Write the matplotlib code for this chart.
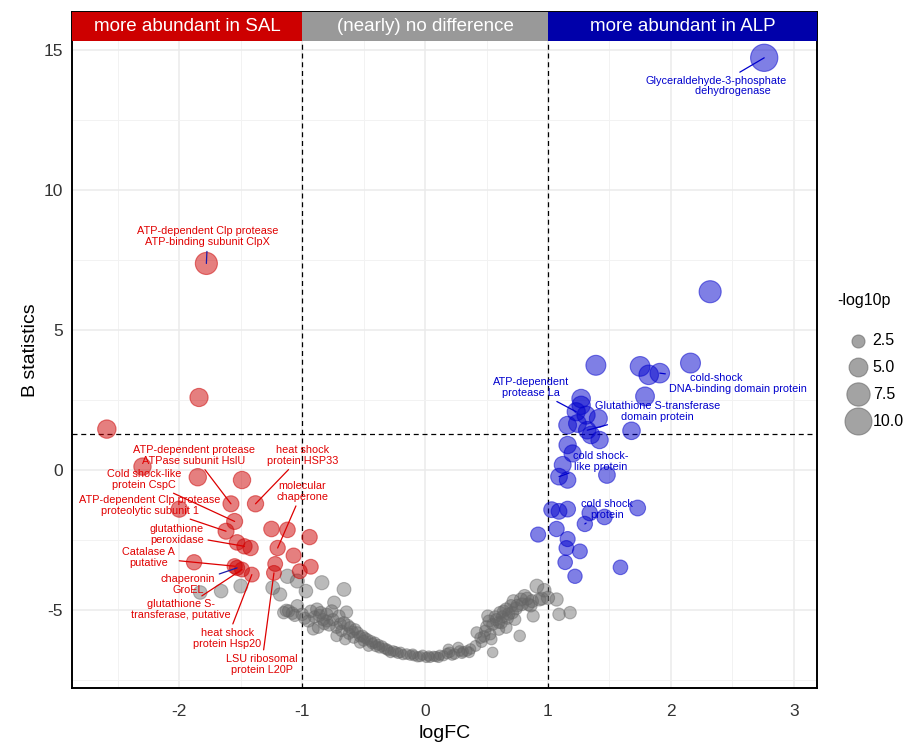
import numpy as np
import matplotlib.pyplot as plt
from matplotlib.patches import Rectangle

plt.rcParams['font.family'] = ['Liberation Sans', 'DejaVu Sans']
plt.rcParams['axes.unicode_minus'] = False

# --- data: logFC, B statistics, -log10p ---
grey_fc = [-1.83, -1.66, -1.50, -1.24, -1.18, -1.12, -1.04, -0.97, -0.84, -0.66,
           -0.74, -1.04, -1.11, -1.15, -1.00, -0.95, -0.88, -0.85, -0.80, -0.76,
           -0.70, -0.64, -0.91, -0.87, -0.80, -0.72, -0.66, -0.61, -0.55, -0.72,
           -0.65, -0.58, -0.51, -0.47, -0.53, -0.46, -0.41, -0.37, -0.31, -0.26,
           -0.28, -0.20, -0.15, -0.09, -0.04, 0.01, 0.04, 0.09, 0.15, 0.20,
           0.24, 0.28, 0.34, 0.19, 0.27, 0.41, 0.42, 0.53, 0.55, 0.54,
           0.51, 0.55, 0.61, 0.62, 0.66, 0.66, 0.70, 0.73, 0.77, 0.72,
           0.78, 0.81, 0.87, 0.88, 0.91, 0.93, 1.00, 1.07, 1.09, 1.18,
           -1.08, -0.98, -0.90, -0.83, -0.78, -0.68, -0.62, -0.57, -0.50, -0.43,
           -0.38, -0.33, -0.22, -0.12, -0.06, 0.07, 0.12, 0.18, 0.31, 0.37,
           0.46, 0.50, 0.58, 0.63, 0.68, 0.75, 0.84, 0.60, 0.48,
           -1.13, -1.06, -0.93, -0.86, -0.82, -0.75, -0.69, -0.63, -0.59, -0.53,
           -0.49, -0.44, -0.40, -0.35, -0.30, -0.24, -0.18, -0.10, -0.02, 0.03,
           0.11, 0.22, 0.30, 0.36, 0.45, 0.49, 0.52, 0.57, 0.60, 0.64,
           0.67, 0.71, 0.74, 0.79, 0.83, 0.86, 0.95, 0.97]
grey_b = [-4.38, -4.33, -4.15, -4.21, -4.45, -3.80, -3.97, -4.33, -4.03, -4.27,
          -4.74, -4.86, -5.04, -5.10, -5.16, -5.40, -4.98, -5.10, -5.16, -5.04,
          -5.22, -5.08, -5.69, -5.63, -5.40, -5.63, -5.46, -5.63, -5.81, -5.93,
          -6.05, -5.99, -5.93, -6.05, -6.17, -6.29, -6.17, -6.35, -6.41, -6.47,
          -6.52, -6.52, -6.58, -6.64, -6.67, -6.70, -6.70, -6.67, -6.64, -6.52,
          -6.58, -6.47, -6.47, -6.41, -6.35, -6.29, -5.81, -5.87, -6.52, -6.05,
          -5.22, -5.52, -5.10, -5.46, -4.98, -5.63, -4.86, -5.34, -5.93, -4.69,
          -4.63, -4.51, -4.69, -5.22, -4.15, -4.63, -4.57, -4.63, -5.16, -5.10,
          -5.12, -5.30, -5.25, -5.35, -5.55, -5.75, -5.85, -5.70, -6.10, -6.20,
          -6.25, -6.38, -6.55, -6.62, -6.68, -6.66, -6.62, -6.56, -6.50, -6.40,
          -6.15, -5.60, -5.35, -5.25, -5.15, -4.85, -4.80, -5.70, -5.95,
          -5.02, -5.20, -5.05, -5.20, -5.50, -5.35, -5.50, -5.55, -5.78, -5.95,
          -6.00, -6.12, -6.30, -6.30, -6.45, -6.50, -6.60, -6.58, -6.62, -6.65,
          -6.70, -6.62, -6.55, -6.52, -6.00, -5.75, -5.40, -5.25, -5.45, -5.05,
          -5.30, -5.10, -4.95, -4.80, -4.60, -4.85, -4.60, -4.30]
grey_p = [2.7, 2.7, 2.8, 2.8, 2.6, 3.0, 2.9, 2.7, 2.9, 2.8,
          2.5, 2.4, 2.3, 2.3, 2.3, 2.2, 2.4, 2.3, 2.3, 2.3,
          2.2, 2.3, 2.1, 2.1, 2.2, 2.1, 2.2, 2.1, 2.0, 2.0,
          1.9, 2.0, 2.0, 1.9, 1.9, 1.8, 1.9, 1.8, 1.8, 1.7,
          1.7, 1.7, 1.7, 1.6, 1.6, 1.6, 1.6, 1.6, 1.6, 1.7,
          1.7, 1.7, 1.7, 1.7, 1.8, 1.8, 2.0, 2.0, 1.7, 1.9,
          2.2, 2.1, 2.3, 2.2, 2.4, 2.1, 2.4, 2.2, 2.0, 2.5,
          2.5, 2.6, 2.5, 2.2, 2.8, 2.5, 2.6, 2.6, 2.3, 2.3,
          2.3, 2.2, 2.2, 2.2, 2.1, 2.0, 2.0, 2.0, 1.9, 1.8,
          1.8, 1.8, 1.7, 1.6, 1.6, 1.6, 1.6, 1.7, 1.7, 1.7,
          1.8, 2.1, 2.2, 2.2, 2.3, 2.4, 2.4, 2.1, 2.0,
          2.3, 2.2, 2.3, 2.2, 2.1, 2.2, 2.1, 2.1, 2.0, 1.9,
          1.9, 1.9, 1.8, 1.8, 1.7, 1.7, 1.6, 1.6, 1.6, 1.6,
          1.6, 1.6, 1.7, 1.7, 1.9, 2.0, 2.2, 2.2, 2.1, 2.3,
          2.2, 2.3, 2.4, 2.4, 2.5, 2.4, 2.5, 2.7]

red_fc = [-2.59, -1.84, -1.78, -2.30, -1.85, -1.49, -1.58, -1.38, -2.00, -1.55,
          -1.62, -1.25, -1.12, -0.94, -1.53, -1.47, -1.42, -1.20, -1.88, -1.07,
          -1.55, -1.53, -1.49, -1.41, -1.22, -1.23, -1.02, -0.93]
red_b = [1.46, 2.59, 7.38, 0.12, -0.26, -0.36, -1.21, -1.21, -1.40, -1.84,
         -2.19, -2.11, -2.14, -2.40, -2.59, -2.73, -2.79, -2.79, -3.30, -3.06,
         -3.44, -3.50, -3.56, -3.74, -3.36, -3.68, -3.62, -3.46]
red_p = [4.8, 4.7, 6.8, 4.3, 4.3, 4.3, 3.7, 3.8, 3.8, 3.7,
         3.7, 3.5, 3.5, 3.4, 3.5, 3.4, 3.4, 3.4, 3.4, 3.3,
         3.3, 3.3, 3.2, 3.2, 3.2, 3.2, 3.2, 3.2]

blue_fc = [2.76, 2.32, 1.39, 1.75, 2.16, 1.82, 1.91, 1.79, 1.27, 1.27,
           1.23, 1.31, 1.41, 1.16, 1.24, 1.32, 1.35, 1.42, 1.68, 1.16,
           1.20, 1.12, 1.09, 1.16, 1.48, 1.03, 1.09, 1.16, 1.34, 1.46,
           1.30, 1.73, 0.92, 1.07, 1.16, 1.15, 1.26, 1.14, 1.22, 1.59]
blue_b = [14.73, 6.37, 3.74, 3.70, 3.82, 3.40, 3.46, 2.63, 2.55, 2.31,
          2.08, 1.96, 1.84, 1.60, 1.66, 1.42, 1.25, 1.07, 1.40, 0.89,
          0.59, 0.18, -0.24, -0.36, -0.18, -1.42, -1.48, -1.40, -1.54, -1.68,
          -1.93, -1.36, -2.31, -2.11, -2.47, -2.79, -2.91, -3.30, -3.80, -3.48]
blue_p = [10.2, 6.8, 5.6, 5.5, 5.6, 5.4, 5.4, 5.0, 4.9, 4.8,
          4.7, 4.7, 4.6, 4.5, 4.5, 4.4, 4.4, 4.3, 4.4, 4.3,
          4.2, 4.1, 4.0, 3.9, 4.0, 3.6, 3.6, 3.6, 3.5, 3.5,
          3.4, 3.6, 3.3, 3.4, 3.3, 3.2, 3.2, 3.1, 3.0, 3.1]

# labelled proteins: index into the red / blue arrays
red_lab_idx = [2, 6, 7, 9, 10, 17, 15, 20, 21, 22, 23, 25]
red_lab_text = ["ATP-dependent Clp protease\nATP-binding subunit ClpX",
                "ATP-dependent protease\nATPase subunit HslU",
                "heat shock\nprotein HSP33",
                "Cold shock-like\nprotein CspC",
                "ATP-dependent Clp protease\nproteolytic subunit 1",
                "molecular\nchaperone",
                "glutathione\nperoxidase",
                "Catalase A\nputative",
                "chaperonin\nGroEL",
                "glutathione S-\ntransferase, putative",
                "heat shock\nprotein Hsp20",
                "LSU ribosomal\nprotein L20P"]
blue_lab_idx = [0, 6, 10, 15, 22, 30]
blue_lab_text = ["Glyceraldehyde-3-phosphate\n           dehydrogenase",
                 "cold-shock               \nDNA-binding domain protein",
                 "ATP-dependent\nprotease La",
                 "Glutathione S-transferase\ndomain protein",
                 "cold shock-\nlike protein",
                 "cold shock\nprotein"]

legend_vals = [2.5, 5.0, 7.5, 10.0]

# label placement (text centre, data units)
red_lab_pos = [(-1.77, 8.33), (-1.88, 0.52), (-1.00, 0.52), (-2.29, -0.34),
               (-2.24, -1.27), (-1.00, -0.77), (-2.02, -2.31), (-2.25, -3.14),
               (-1.93, -4.10), (-1.99, -5.00), (-1.61, -6.02), (-1.33, -6.95)]
red_seg_col = ['#1a1aa8', '#dd0000', '#dd0000', '#dd0000', '#dd0000', '#dd0000',
               '#dd0000', '#dd0000', '#1a1aa8', '#dd0000', '#dd0000', '#dd0000']
blue_lab_pos = [(2.37, 13.72), (2.55, 3.10), (0.86, 2.94), (1.89, 2.10),
                (1.43, 0.30), (1.48, -1.40)]

RED = '#cd0000'
BLUE = '#0000cd'
XLIM = (-2.87, 3.19)
YLIM = (-7.78, 16.37)


def msize(v):
    d = 8.85 * np.sqrt(np.asarray(v)) - 1.0   # diameter in px
    return (d * 0.72) ** 2


fig = plt.figure(figsize=(9.17, 7.45), dpi=100)
ax = fig.add_axes([0.079, 0.077, 0.812, 0.907])
ax.set_xlim(*XLIM)
ax.set_ylim(*YLIM)

ax.set_xticks([-2, -1, 0, 1, 2, 3])
ax.set_yticks([-5, 0, 5, 10, 15])
ax.set_xticks(np.arange(-2.5, 3.0, 1.0), minor=True)
ax.set_yticks([-7.5, -2.5, 2.5, 7.5, 12.5], minor=True)
ax.grid(which='major', color='#ebebeb', lw=1.1, zorder=0)
ax.grid(which='minor', color='#f2f2f2', lw=0.7, zorder=0)
ax.set_axisbelow(True)
ax.tick_params(which='both', length=0, labelsize=12.5, labelcolor='#333333')
ax.tick_params(axis='x', pad=12)
ax.tick_params(axis='y', pad=7)
for s in ax.spines.values():
    s.set_linewidth(1.4)
    s.set_color('black')

# thresholds
for xv in (-1, 1):
    ax.plot([xv, xv], [YLIM[0], 15.33], color='black', lw=0.9, ls=(0, (4, 3)), zorder=1)
ax.axhline(1.3, color='black', lw=0.9, ls=(0, (4, 3)), zorder=1)

# points
ax.scatter(grey_fc, grey_b, s=msize(grey_p), facecolor=(0.4, 0.4, 0.4, 0.45),
           edgecolor=(0.4, 0.4, 0.4, 0.45), lw=0.8, zorder=2)
ax.scatter(red_fc, red_b, s=msize(red_p), facecolor=(0.8, 0.0, 0.0, 0.5),
           edgecolor=(0.8, 0.0, 0.0, 0.5), lw=0.8, zorder=2)
ax.scatter(blue_fc, blue_b, s=msize(blue_p), facecolor=(0.0, 0.0, 0.8, 0.5),
           edgecolor=(0.0, 0.0, 0.8, 0.5), lw=0.8, zorder=2)

# labels
for i, txt, pos, sc in zip(red_lab_idx, red_lab_text, red_lab_pos, red_seg_col):
    ax.annotate(txt, xy=(red_fc[i], red_b[i]), xytext=pos, ha='center', va='center',
                fontsize=7.8, color='#e00000', linespacing=1.1, zorder=3,
                arrowprops=dict(arrowstyle='-', color=sc, lw=0.9, shrinkA=1, shrinkB=0))
for i, txt, pos in zip(blue_lab_idx, blue_lab_text, blue_lab_pos):
    ax.annotate(txt, xy=(blue_fc[i], blue_b[i]), xytext=pos, ha='center', va='center',
                fontsize=7.8, color=BLUE, linespacing=1.1, zorder=3,
                arrowprops=dict(arrowstyle='-', color=BLUE, lw=0.9, shrinkA=1, shrinkB=0))

# top strip
strips = [(XLIM[0], -1, RED, 'more abundant in SAL'),
          (-1, 1, '#999999', '(nearly) no difference'),
          (1, XLIM[1], '#0000aa', 'more abundant in ALP')]
for x0, x1, col, txt in strips:
    ax.add_patch(Rectangle((x0, 15.33), x1 - x0, YLIM[1] - 15.33, facecolor=col,
                           edgecolor='none', zorder=4))
    ax.text((x0 + x1) / 2, (15.33 + YLIM[1]) / 2, txt, ha='center', va='center',
            color='white', fontsize=13.5, zorder=5)

ax.set_xlabel('logFC', fontsize=14, labelpad=4)
ax.set_ylabel('B statistics', fontsize=14, labelpad=3)

# size legend
fig.text(837 / 917, 1 - 300 / 745, '-log10p', fontsize=11.5, va='center', ha='left')
handles = [ax.scatter([], [], s=msize(v), facecolor=(0.4, 0.4, 0.4, 0.6),
                      edgecolor=(0.4, 0.4, 0.4, 0.6), lw=0.8) for v in legend_vals]
fig.legend(handles, [f'{v:.1f}' for v in legend_vals],
           loc='upper left', bbox_to_anchor=(0.916, 0.562), frameon=False,
           fontsize=11.5, labelspacing=0.75, handlelength=1.4, handletextpad=0.25,
           borderaxespad=0)

fig.savefig('out.png', dpi=100)
